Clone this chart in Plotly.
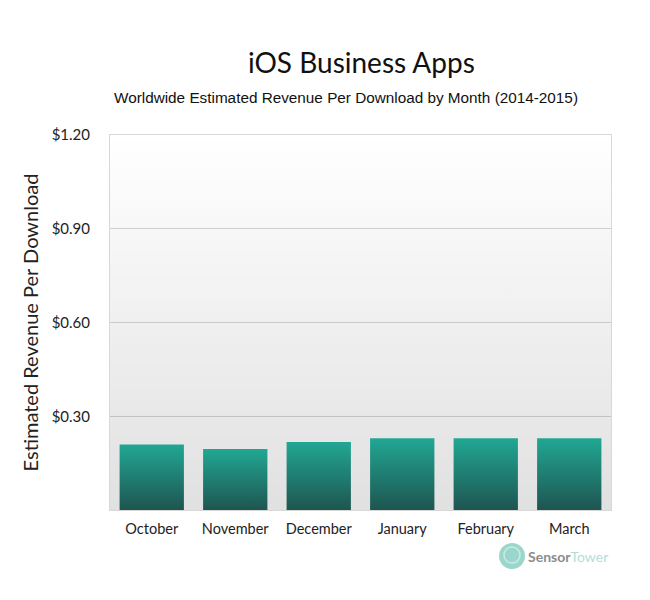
import plotly.graph_objects as go

months = ["October", "November", "December", "January", "February", "March"]
rpd = [0.21, 0.195, 0.218, 0.23, 0.23, 0.23]
y_tickvals = [0.30, 0.60, 0.90, 1.20]
y_ticktext = ["$0.30", "$0.60", "$0.90", "$1.20"]

bar_w = 0.77
fig = go.Figure()

# plot-area background gradient (translucent so gridlines show through)
fig.add_trace(go.Scatter(
    x=[-0.5, len(months) - 0.5, len(months) - 0.5, -0.5, -0.5],
    y=[0, 0, 1.2, 1.2, 0], mode="lines", line=dict(width=0),
    fill="toself",
    fillgradient=dict(type="vertical",
                      colorscale=[[0, "rgba(0,0,0,0.12)"], [1, "rgba(0,0,0,0)"]]),
    hoverinfo="skip", showlegend=False))

for i, (m, v) in enumerate(zip(months, rpd)):
    fig.add_trace(go.Scatter(
        x=[i - bar_w / 2, i + bar_w / 2, i + bar_w / 2, i - bar_w / 2, i - bar_w / 2],
        y=[0, 0, v, v, 0], mode="lines", line=dict(width=0),
        fill="toself",
        fillgradient=dict(type="vertical",
                          colorscale=[[0, "#1e5550"], [1, "#21a794"]]),
        name=m, hoverinfo="name+y", showlegend=False))

# page offset of ~8px (body margin) compensated in margins
L, T, PW, PH = 102, 127, 501, 375
fig.update_layout(
    width=650, height=600,
    margin=dict(l=L, r=650 - L - PW, t=T, b=600 - T - PH),
    paper_bgcolor="white", plot_bgcolor="white",
    font=dict(family="Lato, 'Open Sans', sans-serif", color="#222"),
    xaxis=dict(range=[-0.5, len(months) - 0.5], tickvals=list(range(len(months))),
               ticktext=months, showgrid=False, zeroline=False,
               showline=True, mirror=True, linecolor="#d8d8d8", linewidth=1,
               ticks="outside", ticklen=6, tickcolor="rgba(0,0,0,0)",
               tickfont=dict(size=14.5, color="#222")),
    yaxis=dict(range=[0, 1.2], tickvals=y_tickvals, ticktext=y_ticktext,
               showgrid=True, gridcolor="#d6d6d6", zeroline=False,
               showline=True, mirror=True, linecolor="#d8d8d8", linewidth=1,
               ticks="outside", ticklen=16, tickcolor="rgba(0,0,0,0)",
               tickfont=dict(size=15, color="#222"),
               title=dict(text="Estimated Revenue Per Download",
                          font=dict(size=20, color="#222"), standoff=7)),
    showlegend=False,
)

fig.add_annotation(text="iOS Business Apps", xref="paper", yref="paper",
                   x=(361 - 110) / PW, y=1 + (135 - 62) / PH,
                   xanchor="center", yanchor="middle", showarrow=False,
                   font=dict(size=28, family="Lato, sans-serif", color="#111"))
fig.add_annotation(text="Worldwide Estimated Revenue Per Download by Month (2014-2015)",
                   xref="paper", yref="paper",
                   x=(346 - 110) / PW, y=1 + (135 - 97) / PH,
                   xanchor="center", yanchor="middle", showarrow=False,
                   font=dict(size=15.3, family="Liberation Sans, Arial, sans-serif",
                             color="#111"))

# Sensor Tower watermark
cx, cy = (512 - 110) / PW, -(556 - 510) / PH
fig.add_shape(type="circle", xref="paper", yref="paper",
              xsizemode="pixel", ysizemode="pixel", xanchor=cx, yanchor=cy,
              x0=-13, x1=13, y0=-13, y1=13,
              line=dict(width=0), fillcolor="#9ad6cc")
fig.add_shape(type="circle", xref="paper", yref="paper",
              xsizemode="pixel", ysizemode="pixel", xanchor=cx, yanchor=cy,
              x0=-8, x1=8, y0=-7, y1=9,
              line=dict(width=1.5, color="#c9ece6"), fillcolor="rgba(0,0,0,0)")
fig.add_annotation(text="<b>Sensor</b><span style='color:#b3ded7'>Tower</span>",
                   xref="paper", yref="paper",
                   x=(526 - 110) / PW, y=cy,
                   xanchor="left", yanchor="middle", showarrow=False,
                   font=dict(size=14, family="Lato, sans-serif", color="#8c8c8c"))

fig.write_html("out.html")
